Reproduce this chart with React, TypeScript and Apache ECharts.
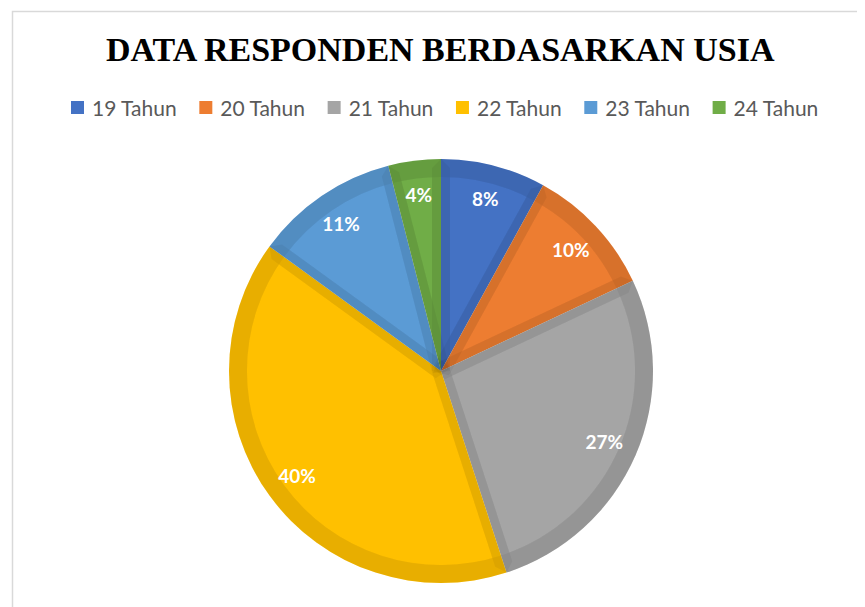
import React, { useEffect, useRef } from "react";
import * as echarts from "echarts";

const titleText = "DATA RESPONDEN BERDASARKAN USIA";
const categories = ["19 Tahun", "20 Tahun", "21 Tahun", "22 Tahun", "23 Tahun", "24 Tahun"];
const values = [8, 10, 27, 40, 11, 4];
const colors = ["#4472C4", "#ED7D31", "#A5A5A5", "#FFC000", "#5B9BD5", "#70AD47"];

export default function App() {
  const ref = useRef<HTMLDivElement>(null);
  useEffect(() => {
    if (!ref.current) return;
    const chart = echarts.init(ref.current, undefined, { renderer: "svg" });
    const center = [433, 363];
    const baseData = categories.map((name, i) => ({
      name,
      value: values[i],
      itemStyle: { color: colors[i] },
    }));
    const plainData = categories.map((name, i) => ({ name, value: values[i] }));
    chart.setOption({
      animation: false,
      backgroundColor: "#ffffff",
      title: {
        text: titleText,
        left: 93,
        top: 19,
        textStyle: {
          fontFamily: "Liberation Serif",
          fontWeight: "bold",
          fontSize: 34,
          color: "#000000",
        },
      },
      legend: {
        data: categories,
        top: 84,
        left: 58,
        icon: "rect",
        itemWidth: 13,
        itemHeight: 13,
        itemGap: 22,
        selectedMode: false,
        textStyle: {
          fontFamily: "Lato",
          fontSize: 21,
          color: "#595959",
          padding: [0, 0, 0, 3],
        },
      },
      graphic: [
        {
          type: "rect",
          left: 2,
          top: 1,
          shape: { width: 1000, height: 1000 },
          style: { fill: "none", stroke: "#D9D9D9", lineWidth: 1.5 },
          silent: true,
        },
      ],
      series: [
        {
          type: "pie",
          center,
          radius: 212,
          startAngle: 90,
          clockwise: true,
          silent: true,
          label: { show: false },
          labelLine: { show: false },
          emphasis: { disabled: true },
          itemStyle: { borderWidth: 0 },
          data: baseData,
        },
        {
          type: "pie",
          center,
          radius: [194, 212],
          startAngle: 90,
          clockwise: true,
          silent: true,
          label: { show: false },
          labelLine: { show: false },
          emphasis: { disabled: true },
          itemStyle: { color: "rgba(0,0,0,0.045)", borderWidth: 0 },
          data: plainData,
        },
        {
          type: "pie",
          center,
          radius: 203,
          startAngle: 90,
          clockwise: true,
          silent: true,
          label: { show: false },
          labelLine: { show: false },
          emphasis: { disabled: true },
          itemStyle: {
            color: "rgba(0,0,0,0)",
            borderColor: "rgba(0,0,0,0.047)",
            borderWidth: 18,
            borderJoin: "bevel",
          },
          data: plainData,
        },
        {
          type: "pie",
          center,
          radius: [138, 212],
          startAngle: 90,
          clockwise: true,
          silent: true,
          labelLine: { show: false },
          emphasis: { disabled: true },
          itemStyle: { color: "rgba(0,0,0,0)", borderWidth: 0 },
          label: {
            show: true,
            position: "inside",
            formatter: (p: any) => Math.round(p.percent) + "%",
            color: "#ffffff",
            fontFamily: "Lato",
            fontWeight: "bold",
            fontSize: 19,
          },
          data: plainData,
        },
      ],
    });
    return () => chart.dispose();
  }, []);
  return <div ref={ref} style={{ width: 857, height: 599 }} />;
}
